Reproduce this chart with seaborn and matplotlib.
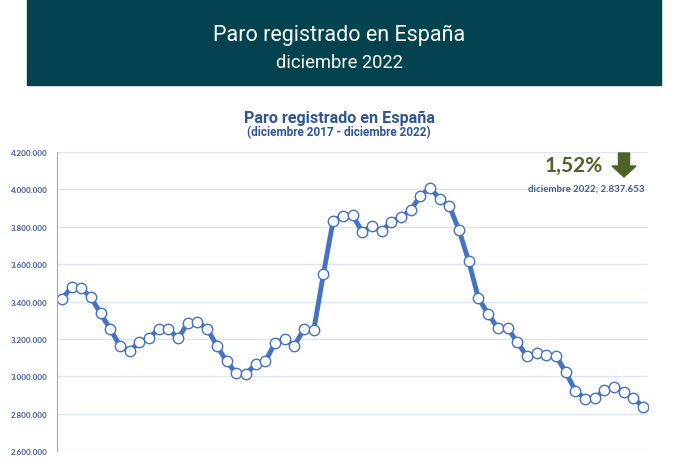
import numpy as np
import pandas as pd
import seaborn as sns
import matplotlib.pyplot as plt
from matplotlib.patches import Rectangle, FancyArrow
from matplotlib.ticker import FuncFormatter

sns.set_style('white')

# monthly registered unemployment, Dec 2017 - Dec 2022
months = pd.date_range('2017-12-01', '2022-12-01', freq='MS')
paro = [
	3412781, 3476528, 3470248, 3422551, 3335868, 3252130, 3162162, 3135021, 3182068, 3202509, 3254703, 3252867,
	3202297, 3285761, 3289040, 3255084, 3163566, 3079491, 3015686, 3011433, 3065804, 3079711, 3177659, 3198184,
	3163605, 3253853, 3246047, 3548312, 3831203, 3857776, 3862883, 3773034, 3802814, 3776485, 3826043, 3851312,
	3888137, 3964353, 4008789, 3949640, 3910628, 3781250, 3614339, 3416498, 3333915, 3257068, 3257802, 3182687,
	3105905, 3123078, 3111684, 3108763, 3022503, 2922991, 2880582, 2883812, 2924240, 2941919, 2914892, 2881380,
	2837653,
]
yticks = [2600000, 2800000, 3000000, 3200000, 3400000, 3600000, 3800000, 4000000, 4200000]
variation = '1,52%'
last_label = 'diciembre 2022; 2.837.653'

df = pd.DataFrame({'idx': np.arange(len(paro)), 'paro': paro})

plt.rcParams['font.family'] = ['Roboto', 'DejaVu Sans']

fig = plt.figure(figsize=(6.78, 4.64), dpi=100)
blue = '#4472C4'
text_blue = '#2F5597'
tick_blue = '#3E5C8E'
green = '#4F6228'

# header banner
fig.patches.append(Rectangle((27 / 678, 1 - 86 / 464), 634 / 678, 86 / 464,
	transform=fig.transFigure, color='#03434F', zorder=0))
fig.text(0.5, 1 - 35 / 464, 'Paro registrado en España', color='white', fontsize=15.5,
	ha='center', va='center')
fig.text(0.5, 1 - 63 / 464, 'diciembre 2022', color='white', fontsize=13.2,
	ha='center', va='center')

# chart titles
fig.text(0.5, 1 - 118 / 464, 'Paro registrado en España', color=text_blue, fontsize=11.6,
	ha='center', va='center', fontweight='bold')
fig.text(0.5, 1 - 133 / 464, '(diciembre 2017 - diciembre 2022)', color=text_blue, fontsize=8.5,
	ha='center', va='center', fontweight='bold')

ax = fig.add_axes([57 / 678, 1 - 452 / 464, 591 / 678, 299 / 464])
sns.lineplot(data=df, x='idx', y='paro', ax=ax, color=blue, linewidth=3.5,
	marker='o', markersize=7.5, markerfacecolor='white', markeredgecolor=blue, markeredgewidth=1)

ax.set_xlim(-0.5, len(paro) - 0.5)
ax.set_ylim(yticks[0], yticks[-1])
ax.set_yticks(yticks)
ax.yaxis.set_major_formatter(FuncFormatter(lambda v, p: f'{int(v):,}'.replace(',', '.')))
ax.set_xticks([])
ax.set_xlabel(None)
ax.set_ylabel(None)
ax.grid(axis='y', color='#DCE6F2', linewidth=1)
for s in ['top', 'right', 'bottom']:
	ax.spines[s].set_visible(False)
ax.spines['left'].set_color('#A6A6A6')
ax.tick_params(axis='y', length=0, pad=6.5, labelsize=5.8, labelcolor=tick_blue)
for lbl in ax.get_yticklabels():
	lbl.set_fontweight('bold')
	lbl.set_family(['Lato', 'DejaVu Sans'])

# variation annotation
fig.text(574 / 678, 1 - 166 / 464, variation, color=green, fontsize=15, fontweight='bold',
	ha='center', va='center', family=['Lato', 'DejaVu Sans'])
fig.patches.append(FancyArrow(624 / 678, 1 - 154 / 464, 0, -24 / 464, width=11 / 678,
	head_width=24 / 678, head_length=11 / 464, length_includes_head=True,
	transform=fig.transFigure, color=green))
fig.text(645 / 678, 1 - 189 / 464, last_label, color=tick_blue, fontsize=6.9, fontweight='bold',
	ha='right', va='center', family=['Lato', 'DejaVu Sans'])

plt.savefig('out.png', dpi=100)
